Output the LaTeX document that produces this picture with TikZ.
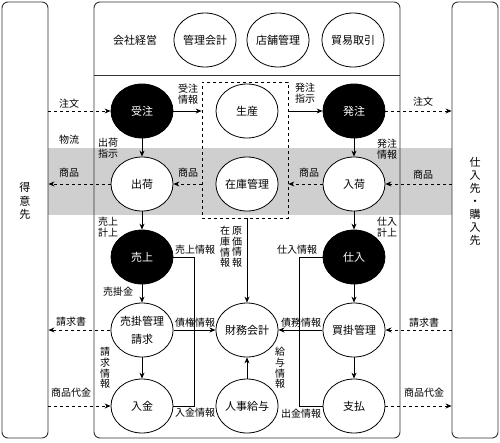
\documentclass[tikz,border=0pt]{standalone}
\usepackage{fontspec}
\setmainfont{Noto Sans CJK JP}
\usepackage{xcolor}
\definecolor{band}{HTML}{CFCFCF}
\definecolor{frameline}{HTML}{333333}
\usetikzlibrary{arrows.meta, positioning, shapes.geometric, backgrounds}

\begin{document}
\begin{tikzpicture}[
  x=1pt, y=-1pt,
  frame/.style={draw=frameline, line width=0.9pt, rounded corners=6pt, inner sep=0pt},
  proc/.style={draw, ellipse, line width=0.8pt, fill=white, minimum width=62pt, minimum height=54pt, inner sep=0pt, font=\fontsize{11}{18}\selectfont, align=center},
  keyproc/.style={proc, fill=black, text=white},
  lbl/.style={font=\fontsize{10}{11.5}\selectfont, inner sep=0pt, align=center},
  vlbl/.style={lbl, font=\fontsize{10}{10.7}\selectfont},
  arr/.style={-{Stealth[length=6pt, width=5pt]}, line width=0.8pt},
  darr/.style={arr, dashed},
  ln/.style={line width=0.8pt},
]
\useasboundingbox (0,0) rectangle (500,442);

% Outer frames: customers, company, suppliers
\node[frame, minimum width=46pt, minimum height=436pt] (cust) at (25,220) {};
\node[frame, minimum width=306pt, minimum height=436pt] (firm) at (247,220) {};
\node[frame, minimum width=46pt, minimum height=436pt] (supp) at (475,220) {};
\draw[draw=frameline, line width=0.9pt] (firm.west |- 0,75) -- (firm.east |- 0,75);
\node[lbl, font=\fontsize{11}{13.5}\selectfont] (cust_name) at (25,201) {得\\意\\先};
\node[lbl, font=\fontsize{11}{13}\selectfont] (supp_name) at (475,201) {仕\\入\\先\\・\\購\\入\\先};

% Top row: management
\node[lbl, font=\fontsize{11}{12}\selectfont] (mgmt) at (135,40) {会社経営};
\node[proc] (acct) at (205,40) {管理会計};
\node[proc] (store) at (278,40) {店舗管理};
\node[proc] (trade) at (353,40) {貿易取引};

% Processes
\node[draw, dashed, line width=0.8pt, minimum width=86pt, minimum height=136pt, inner sep=0pt] (stock_area) at (245,150) {};
\node[keyproc] (order_in) at (142,111) {受注};
\node[proc] (prod) at (247,111) {生産};
\node[keyproc] (order_out) at (354,111) {発注};
\node[proc] (ship) at (142,184) {出荷};
\node[proc] (stock) at (247,184) {在庫管理};
\node[proc] (receive) at (354,184) {入荷};
\node[keyproc] (sales) at (142,257) {売上};
\node[keyproc] (purchase) at (354,257) {仕入};
\node[proc] (ar) at (142,330) {売掛管理\\請求};
\node[proc] (finance) at (247,330) {財務会計};
\node[proc] (ap) at (354,330) {買掛管理};
\node[proc] (cash_in) at (142,406) {入金};
\node[proc] (hr) at (247,406) {人事給与};
\node[proc] (payment) at (354,406) {支払};

% Logistics band
\begin{scope}[on background layer]
\fill[band] (cust.east |- 0,148) rectangle (supp.west |- 0,215);
\end{scope}

% Labels
\node[lbl] (order_l) at (69,104) {注文};
\node[lbl] (order_r) at (423,102) {注文};
\node[lbl] (logistics) at (69,140) {物流};
\node[lbl] (order_info) at (188,94) {受注\\情報};
\node[lbl] (order_cmd) at (305,93) {発注\\指示};
\node[lbl] (ship_cmd) at (108,148) {出荷\\指示};
\node[lbl] (po_info) at (387,149) {発注\\情報};
\node[lbl] (goods_l) at (69,173) {商品};
\node[lbl] (goods_ship) at (188,173) {商品};
\node[lbl] (goods_recv) at (309,173) {商品};
\node[lbl] (goods_r) at (423,175) {商品};
\node[lbl] (sales_book) at (108,227) {売上\\計上};
\node[lbl] (purch_book) at (387,227) {仕入\\計上};
\node[lbl] (sales_info) at (195,250) {売上情報};
\node[lbl] (purch_info) at (297,250) {仕入情報};
\node[vlbl] (stock_info) at (225,247) {在\\庫\\情\\報};
\node[vlbl] (cost_info) at (237,247) {原\\価\\情\\報};
\node[lbl] (receivable) at (118,292) {売掛金};
\node[lbl] (credit_info) at (195,323) {債権情報};
\node[lbl] (debt_info) at (301,323) {債務情報};
\node[lbl] (bill_l) at (71,322) {請求書};
\node[lbl] (bill_r) at (424,323) {請求書};
\node[vlbl] (bill_info) at (105,368) {請\\求\\情\\報};
\node[vlbl] (pay_info) at (280,368) {給\\与\\情\\報};
\node[lbl] (price_l) at (71,393) {商品代金};
\node[lbl] (price_r) at (424,393) {商品代金};
\node[lbl] (cash_info) at (195,413) {入金情報};
\node[lbl] (out_info) at (301,414) {出金情報};

% Flows with customers and suppliers
\draw[darr] (order_in -| cust.east) -- (order_in);
\draw[darr] (order_out) -- (order_out -| supp.west);
\draw[darr] (ship) -- (ship -| cust.east);
\draw[darr] (receive -| supp.west) -- (receive);
\draw[darr] (ar) -- (ar -| cust.east);
\draw[darr] (ap -| supp.west) -- (ap);
\draw[darr] (cash_in -| cust.east) -- (cash_in);
\draw[darr] (payment) -- (payment -| supp.west);

% Flows around stock
\draw[arr] (order_in) -- (order_in -| stock_area.west);
\draw[arr] (order_out -| stock_area.east) -- (order_out);
\draw[darr] (ship -| stock_area.west) -- (ship);
\draw[darr] (receive) -- (receive -| stock_area.east);
\draw[arr] (stock_area.south -| finance) -- (finance);

% Columns
\draw[arr] (order_in) -- (ship);
\draw[arr] (ship) -- (sales);
\draw[arr] (sales) -- (ar);
\draw[arr] (ar) -- (cash_in);
\draw[arr] (order_out) -- (receive);
\draw[arr] (receive) -- (purchase);
\draw[arr] (purchase) -- (ap);
\draw[arr] (ap) -- (payment);

% Into accounting
\draw[arr] (ar) -- (finance);
\draw[arr] (ap) -- (finance);
\draw[arr] (hr) -- (finance);
\draw[ln] (sales.east) -- ++(21,0) |- (cash_in.east);
\draw[ln] (purchase.west) -- ++(-23,0) |- (payment.west);

\end{tikzpicture}
\end{document}
